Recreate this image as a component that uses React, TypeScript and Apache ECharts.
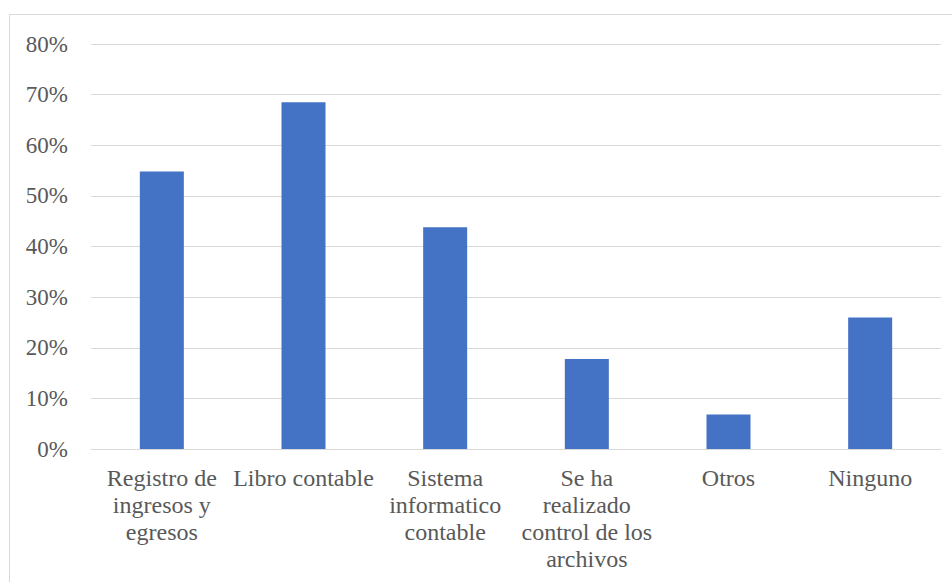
import React, { useEffect, useRef } from "react";
import * as echarts from "echarts";

const categories = [
  "Registro de\ningresos y\negresos",
  "Libro contable",
  "Sistema\ninformatico\ncontable",
  "Se ha\nrealizado\ncontrol de los\narchivos",
  "Otros",
  "Ninguno",
];
const values = [0.548, 0.685, 0.438, 0.178, 0.068, 0.26];
const yTicks = { min: 0, max: 0.8, interval: 0.1 };

const FONT = "Liberation Serif";

export default function App() {
  const ref = useRef<HTMLDivElement>(null);
  useEffect(() => {
    if (!ref.current) return;
    const chart = echarts.init(ref.current, null, { renderer: "svg" });
    chart.setOption({
      animation: false,
      backgroundColor: "#ffffff",
      textStyle: { fontFamily: FONT },
      graphic: [
        {
          type: "rect",
          shape: { x: 9.5, y: 14.5, width: 1000, height: 700 },
          style: { fill: "none", stroke: "#d9d9d9", lineWidth: 1 },
          silent: true,
        },
      ],
      grid: { left: 91, right: 11, top: 44, bottom: 133, containLabel: false },
      xAxis: {
        type: "category",
        data: categories,
        axisLine: { show: true, lineStyle: { color: "#d9d9d9", width: 1 } },
        axisTick: { show: false },
        axisLabel: {
          interval: 0,
          margin: 15,
          color: "#595959",
          fontFamily: FONT,
          fontSize: 24,
          lineHeight: 27,
          formatter: (v: string) =>
            v
              .split("\n")
              .map((l) => "{a|" + l + "}")
              .join("\n"),
          rich: {
            a: {
              color: "#595959",
              fontFamily: FONT,
              fontSize: 24,
              lineHeight: 27,
            },
          },
        },
      },
      yAxis: {
        type: "value",
        min: yTicks.min,
        max: yTicks.max,
        interval: yTicks.interval,
        axisLine: { show: false },
        axisTick: { show: false },
        splitLine: { lineStyle: { color: "#d9d9d9", width: 1 } },
        axisLabel: {
          margin: 23,
          formatter: (v: number) => "{a|" + Math.round(v * 100) + "%}",
          rich: {
            a: {
              color: "#595959",
              fontFamily: FONT,
              fontSize: 23,
            },
          },
        },
      },
      series: [
        {
          type: "bar",
          data: values,
          barWidth: 44,
          itemStyle: { color: "#4472C4" },
        },
      ],
    });
    return () => chart.dispose();
  }, []);
  return (
    <div
      ref={ref}
      style={{ position: "fixed", left: 0, top: 0, width: 952, height: 582 }}
    />
  );
}
